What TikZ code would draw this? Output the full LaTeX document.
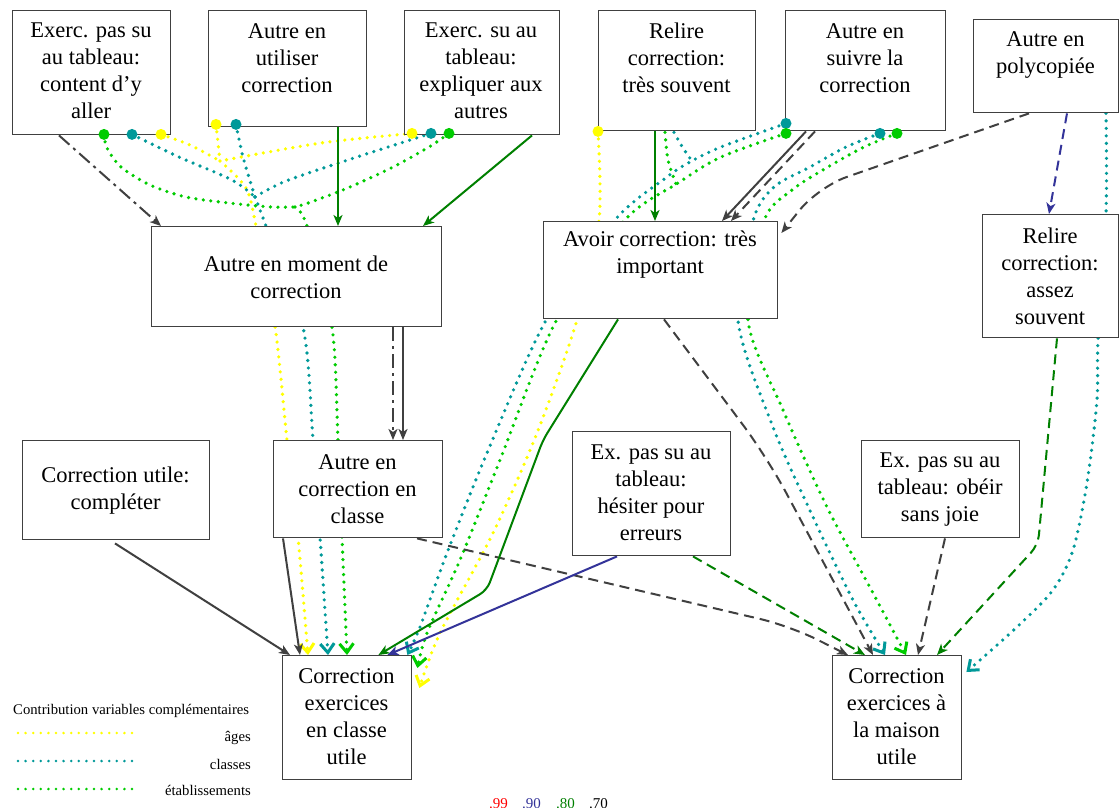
\documentclass[tikz,border=0pt]{standalone}
\usepackage{fontspec}
\setmainfont{Liberation Serif}
\usetikzlibrary{arrows.meta,calc,backgrounds}
\definecolor{dg}{HTML}{404040}
\definecolor{gdk}{HTML}{008000}
\definecolor{bl}{HTML}{333399}
\definecolor{rd}{HTML}{FF0000}
\definecolor{ylw}{HTML}{FFFF00}
\definecolor{tl}{HTML}{009999}
\definecolor{lm}{HTML}{00CC00}
\tikzset{
  box/.style={draw=dg, line width=1.4pt, fill=white, anchor=north west, inner sep=0pt},
  lbl/.style={align=center, inner sep=0pt, font=\rmfamily\fontsize{22.5}{27}\selectfont},
  link/.style={line width=2pt, -{Stealth[length=11pt,width=9pt,inset=3pt]}},
  ln70/.style={link, draw=dg},
  ln80/.style={link, draw=gdk},
  ln90/.style={link, draw=bl},
  da/.style={dash pattern=on 10pt off 6pt},
  dd/.style={dash pattern=on 14pt off 5pt on 3pt off 5pt},
  dotline/.style={line width=3.6pt, line cap=round, dash pattern=on 0pt off 7.5pt},
  dottip/.style={-{Straight Barb[length=9pt,width=14pt,line width=3pt]}},
  small/.style={inner sep=0pt, font=\rmfamily\fontsize{14.7}{16}\selectfont},
  scale num/.style={anchor=base east, inner sep=0pt, font=\rmfamily\fontsize{15}{16}\selectfont},
}
\begin{document}
\begin{tikzpicture}[x=1pt,y=-1pt]
\useasboundingbox (0,0) rectangle (1120,807);

% boxes
\node[box, minimum width=158pt, minimum height=124pt] (A) at (12,10) {};
\node[box, minimum width=158pt, minimum height=116pt] (B) at (208,10) {};
\node[box, minimum width=155pt, minimum height=124pt] (C) at (404,10) {};
\node[box, minimum width=157pt, minimum height=120pt] (D) at (598,10) {};
\node[box, minimum width=160pt, minimum height=120pt] (E) at (785,10) {};
\node[box, minimum width=145pt, minimum height=93pt] (F) at (973,19) {};
\node[box, minimum width=290pt, minimum height=100pt] (G) at (151,226) {};
\node[box, minimum width=234pt, minimum height=97pt] (Av) at (543,221) {};
\node[box, minimum width=136pt, minimum height=123pt] (R2) at (982,214) {};
\node[box, minimum width=187pt, minimum height=99pt] (M) at (22,440) {};
\node[box, minimum width=169pt, minimum height=97pt] (H) at (273,440) {};
\node[box, minimum width=158pt, minimum height=124pt] (I) at (572,431) {};
\node[box, minimum width=158pt, minimum height=97pt] (K) at (861,440) {};
\node[box, minimum width=129pt, minimum height=124pt] (J) at (282,655) {};
\node[box, minimum width=129pt, minimum height=124pt] (L) at (832,655) {};

% box texts
\node[lbl] (A-t) at (91,71) {Exerc. pas su\\au tableau:\\content d’y\\aller};
\node[lbl] (B-t) at (287,58) {Autre en\\utiliser\\correction};
\node[lbl] (C-t) at (481,71) {Exerc. su au\\tableau:\\expliquer aux\\autres};
\node[lbl] (D-t) at (676.5,58) {Relire\\correction:\\très souvent};
\node[lbl] (E-t) at (865,58) {Autre en\\suivre la\\correction};
\node[lbl] (F-t) at (1045.5,55) {Autre en\\polycopiée};
\node[lbl] (G-t) at (296,277) {Autre en moment de\\correction};
\node[lbl] (Av-t) at (660,255) {Avoir correction: très\\important};
\node[lbl] (R2-t) at (1050,276) {Relire\\correction:\\assez\\souvent};
\node[lbl] (M-t) at (115.5,491) {Correction utile:\\compléter};
\node[lbl] (H-t) at (357.5,489) {Autre en\\correction en\\classe};
\node[lbl] (I-t) at (651,493) {Ex. pas su au\\tableau:\\hésiter pour\\erreurs};
\node[lbl] (K-t) at (940,490) {Ex. pas su au\\tableau: obéir\\sans joie};
\node[lbl] (J-t) at (346.5,717) {Correction\\exercices\\en classe\\utile};
\node[lbl] (L-t) at (896.5,717) {Correction\\exercices à\\la maison\\utile};

% start points of the dotted links
\coordinate (ga) at ($(A.south west)+(92,-1)$);
\coordinate (ta) at ($(A.south west)+(120,-1)$);
\coordinate (ya) at ($(A.south west)+(149,-1)$);
\coordinate (yb) at ($(B.south west)+(8,-3)$);
\coordinate (tb) at ($(B.south west)+(28,-3)$);
\coordinate (yc) at ($(C.south west)+(8,-2)$);
\coordinate (tc) at ($(C.south west)+(27,-2)$);
\coordinate (gc) at ($(C.south west)+(45,-2)$);
\coordinate (yd) at (D.south west);
\coordinate (gd) at ($(D.south west)+(67,1)$);
\coordinate (td) at ($(D.south west)+(76,1)$);
\coordinate (te) at ($(E.south west)+(1,-8)$);
\coordinate (ge) at ($(E.south west)+(1,2)$);
\coordinate (te2) at ($(E.south west)+(95,2)$);
\coordinate (ge2) at ($(E.south west)+(112,2)$);
\coordinate (tf) at ($(F.south west)+(133,0)$);
% junctions and end points
\coordinate (mY1) at (220,161);
\coordinate (mT1) at (255,197);
\coordinate (mG1) at (295,207);
\coordinate (yJ) at ($(J.north west)+(26,0)$);
\coordinate (tJ) at ($(J.north west)+(46,0)$);
\coordinate (gJ) at ($(J.north west)+(65,0)$);
\coordinate (yJ2) at ($(J.north east)+(7,33)$);
\coordinate (gJ2) at ($(J.north east)+(5,13)$);
\coordinate (tJ2) at ($(J.north east)+(-5,0)$);
\coordinate (tL) at ($(L.north west)+(53,0)$);
\coordinate (gL) at ($(L.north west)+(74,0)$);
\coordinate (tL2) at ($(L.north east)+(4,17)$);

\begin{pgfonlayer}{background}
\fill[white] (0,0) rectangle (1120,807);

% dotted links, left group
\draw[dotline, ylw] plot[smooth] coordinates {(ya) (190,145) (mY1)};
\draw[dotline, ylw] (yb) -- (mY1);
\draw[dotline, ylw] plot[smooth] coordinates {(yc) (321,143) (mY1)};
\draw[dotline, ylw, dottip] plot[smooth] coordinates {(mY1) (246,188) (256,226) (275,326) (287,440) (298,537) (yJ)};
\draw[dotline, tl] plot[smooth] coordinates {(ta) (179,157) (232,180) (mT1)};
\draw[dotline, tl] plot[smooth] coordinates {(tb) (243,157) (mT1)};
\draw[dotline, tl] plot[smooth] coordinates {(tc) (357,157) (286,181) (mT1)};
\draw[dotline, tl, dottip] plot[smooth] coordinates {(mT1) (266,226) (303,327) (313,440) (320,537) (tJ)};
\draw[dotline, lm] plot[smooth] coordinates {(ga) (107,148) (121,167) (150,185) (186,197) (229,203) (271,207) (mG1)};
\draw[dotline, lm] plot[smooth] coordinates {(gc) (429,147) (393,167) (350,187) (311,202) (mG1)};
\draw[dotline, lm, dottip] plot[smooth] coordinates {(mG1) (307,226) (332,327) (338,440) (342,537) (gJ)};

% dotted links, right group
\draw[dotline, ylw, dottip] plot[smooth] coordinates {(yd) (599,221) (577,320) (537,433) (493,533) (440,633) (yJ2)};
\draw[dotline, tl] plot[smooth] coordinates {(td) (683,148) (692,161)};
\draw[dotline, tl, dottip] plot[smooth] coordinates {(te) (721,147) (690,162) (667,177) (614,221) (545,322) (487,453) (447,553) (420,627) (tJ2)};
\draw[dotline, lm] plot[smooth] coordinates {(gd) (668,160) (676,184)};
\draw[dotline, lm, dottip] plot[smooth] coordinates {(ge) (721,157) (678,183) (624,221) (555,323) (500,460) (460,560) (427,633) (gJ2)};
\draw[dotline, tl, dottip] plot[smooth] coordinates {(te2) (846,147) (810,167) (774,187) (753,221) (738,320) (773,427) (813,517) (853,600) (tL)};
\draw[dotline, lm, dottip] plot[smooth] coordinates {(ge2) (864,147) (828,167) (792,190) (764,221) (748,320) (783,410) (827,507) (873,593) (gL)};
\draw[dotline, tl, dottip] plot[smooth] coordinates {(tf) (1106,214) (1098,340) (1097,400) (1087,483) (1073,550) (1053,590) (1017,627) (tL2)};

% plain links
\draw[ln70, dd] ($(A.south west)+(47,0)$) -- ($(G.north west)+(10,0)$);
\draw[ln80] ($(B.south west)+(130,0)$) -- ($(G.north west)+(187,0)$);
\draw[ln80] ($(C.south west)+(128,0)$) -- ($(G.north west)+(272,0)$);
\draw[ln70, dd] ($(G.south west)+(242,0)$) -- ($(H.north west)+(120,0)$);
\draw[ln70] ($(G.south west)+(252,0)$) -- ($(H.north west)+(130,0)$);
\draw[ln70] ($(H.south west)+(10,0)$) -- ($(J.north west)+(18,0)$);
\draw[ln70] ($(M.south west)+(93,3)$) -- ($(J.north west)+(8,0)$);
\draw[ln70, da, rounded corners=30pt] ($(H.south west)+(144,0)$) -- (790,626) -- ($(L.north west)+(16,0)$);
\draw[ln80] ($(D.south west)+(57,0)$) -- ($(Av.north west)+(112,0)$);
\draw[ln70] ($(E.south west)+(21,0)$) -- ($(Av.north west)+(179,0)$);
\draw[ln70, da] ($(E.south west)+(30,0)$) -- ($(Av.north west)+(188,0)$);
\draw[ln70, da, rounded corners=30pt] ($(F.south west)+(56,0)$) -- (818,187) -- ($(Av.north east)+(3,12)$);
\draw[ln90, da] ($(F.south west)+(94,0)$) -- ($(R2.north west)+(67,0)$);
\draw[ln80, rounded corners=8pt] ($(Av.south west)+(75,0)$) -- (543,440) -- (487,590) -- ($(J.north east)+(-34,0)$);
\draw[ln70, da, rounded corners=40pt] ($(Av.south west)+(121,0)$) -- (767,457) -- ($(L.north west)+(41,0)$);
\draw[ln90] ($(I.south west)+(45,0)$) -- ($(J.north east)+(-25,0)$);
\draw[ln80, da] ($(I.south west)+(121,0)$) -- ($(L.north west)+(33,0)$);
\draw[ln70, da] ($(K.south west)+(84,0)$) -- ($(L.north west)+(86,0)$);
\draw[ln80, da, rounded corners=10pt] ($(R2.south west)+(75,0)$) -- (1038,545) -- ($(L.north west)+(105,0)$);
\end{pgfonlayer}

% round tails of the dotted links
\foreach \p/\c in {ga/lm, ta/tl, ya/ylw, yb/ylw, tb/tl, yc/ylw, tc/tl, gc/lm,
                   yd/ylw, te/tl, ge/lm, te2/tl, ge2/lm}
  \fill[\c] (\p) circle (5.5pt);

% legend
\node[small, anchor=west] (leg) at (13,711) {Contribution variables complémentaires};
\coordinate (la1) at (18,733);  \coordinate (la2) at (134,733);
\coordinate (lc1) at (18,761);  \coordinate (lc2) at (134,761);
\coordinate (le1) at (18,789);  \coordinate (le2) at (134,789);
\draw[dotline, ylw, line width=2.8pt, dash pattern=on 0pt off 7.6pt] (la1) -- (la2);
\draw[dotline, tl, line width=2.8pt, dash pattern=on 0pt off 7.6pt] (lc1) -- (lc2);
\draw[dotline, lm, line width=2.8pt, dash pattern=on 0pt off 7.6pt] (le1) -- (le2);
\node[small, anchor=east] (leg-a) at (251,738) {âges};
\node[small, anchor=east] (leg-c) at (251,764) {classes};
\node[small, anchor=east] (leg-e) at (251,790) {établissements};

% threshold scale
\node[scale num, text=rd] (s99) at (508,808) {.99};
\node[scale num, text=bl] (s90) at (541,808) {.90};
\node[scale num, text=gdk] (s80) at (575,808) {.80};
\node[scale num, text=black] (s70) at (608,808) {.70};
\end{tikzpicture}
\end{document}
